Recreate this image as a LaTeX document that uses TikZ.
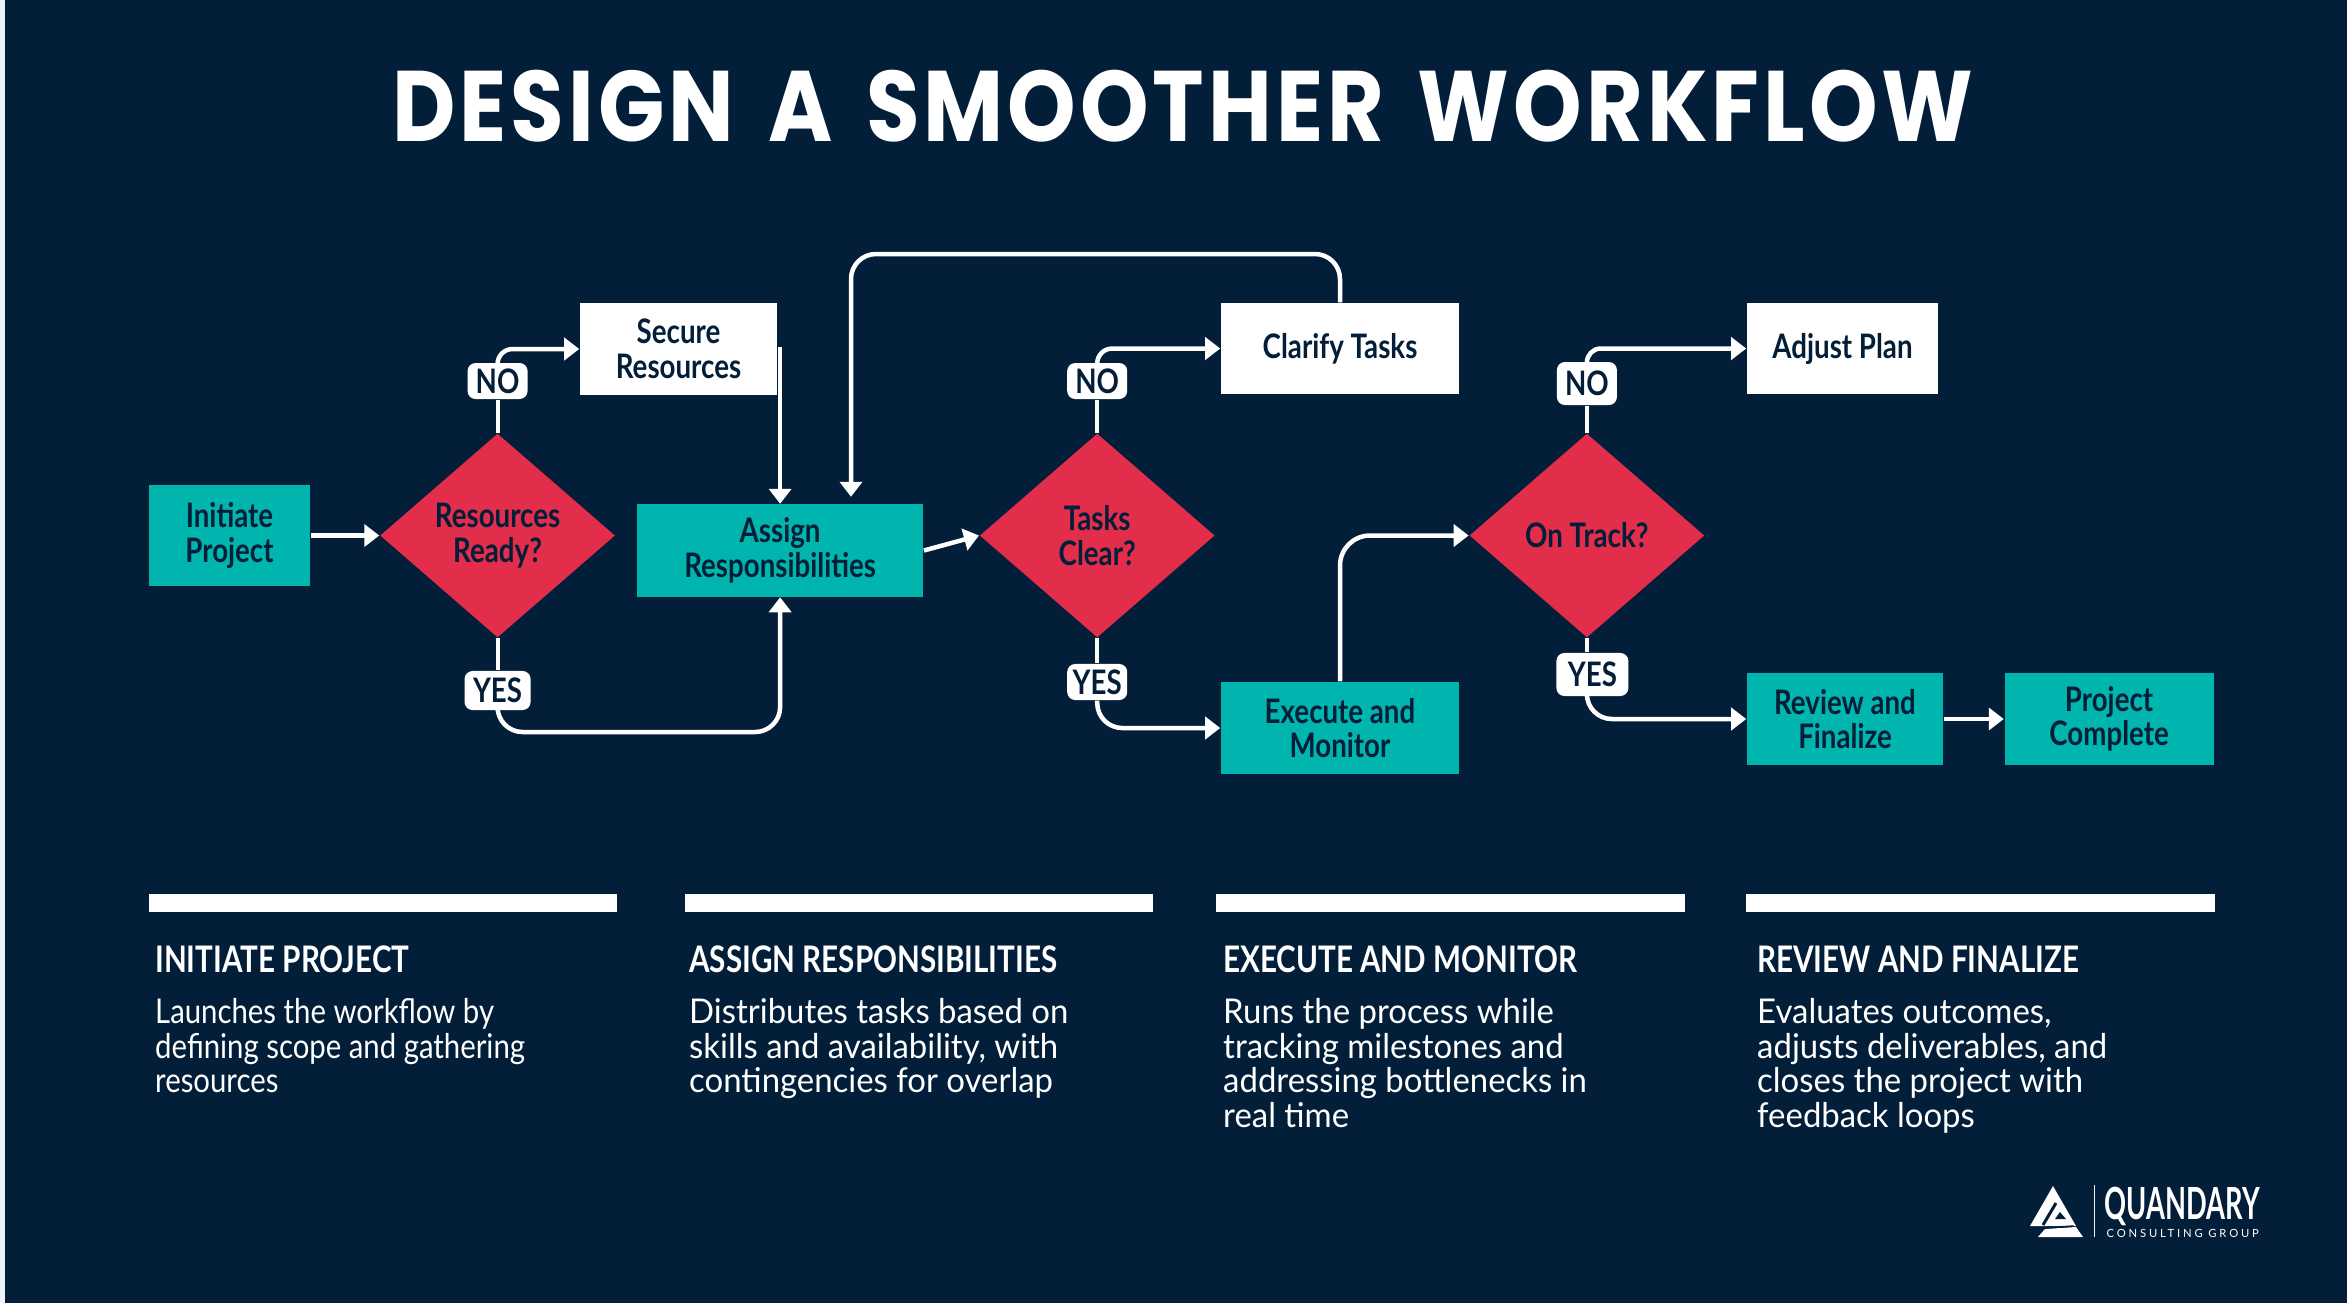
\documentclass[tikz,border=0pt]{standalone}
\usepackage{fontspec}
\usepackage{tikz}
\usetikzlibrary{arrows.meta,positioning,shapes.geometric}

\definecolor{navy}{HTML}{021E38}
\definecolor{teal}{HTML}{00B5AD}
\definecolor{crimson}{HTML}{E22D4B}
\definecolor{edgeblue}{HTML}{EEF3F8}

\newfontfamily\titlefont[LetterSpace=4,FakeStretch=.87,WordSpace=1.5]{Poppins}
\newfontfamily\boxfont[FakeStretch=.82]{Lato}
\newfontfamily\headfont[FakeStretch=.81]{Lato}
\newfontfamily\bodyfont[FakeStretch=.965]{Lato}
\newfontfamily\leadfont[FakeStretch=.86]{Lato}
\newfontfamily\logofont[FakeStretch=.615]{Lato}
\newfontfamily\logosmall[LetterSpace=25]{Lato}

\tikzset{
  boxtext/.style={font=\boxfont\bfseries\fontsize{9.6}{9.8}\selectfont,text=navy,align=center,inner sep=0pt},
  task/.style={boxtext,fill=teal,rectangle},
  fix/.style={boxtext,fill=white,rectangle},
  decision/.style={boxtext,fill=crimson,diamond,minimum width=2.35cm,minimum height=2.04cm},
  tag/.style={boxtext,fill=white,rectangle,rounded corners=.08cm},
  bar/.style={fill=white,minimum width=4.68cm,minimum height=.18cm,inner sep=0pt},
  headline/.style={font=\headfont\bfseries\fontsize{10.4}{11}\selectfont,text=white,anchor=base west,inner sep=0pt},
  bodytext/.style={font=\bodyfont\fontsize{9.7}{9.82}\selectfont,text=white,align=left,anchor=north west,inner sep=0pt},
  flow/.style={color=white,line width=.045cm,->},
  plain/.style={color=white,line width=.04cm}
}

\begin{document}
\begin{tikzpicture}[x=.01cm,y=-.01cm,>={Triangle[length=.15cm,width=.22cm]}]
  \useasboundingbox (0,0) rectangle (2347,1302);
  \fill[navy] (-5,-5) rectangle (2352,1307);
  \fill[edgeblue] (-5,-5) rectangle (4.5,1307);

  \node[font=\titlefont\bfseries\fontsize{28.5}{30}\selectfont,text=white,inner sep=0pt] (title) at (1183,106) {DESIGN A SMOOTHER WORKFLOW};

  % first row of the flow
  \node[task,minimum width=1.61cm,minimum height=1.01cm] (init) at (229.5,535.5) {Initiate\\Project};
  \node[decision,right=.685cm of init] (res) {Resources\\Ready?};
  \node[task,minimum width=2.86cm,minimum height=.92cm,right=.205cm of res,yshift=-.15cm] (assign) {Assign\\Responsibilities};
  \node[decision,right=.55cm of assign,yshift=.15cm] (tasks) {Tasks\\Clear?};
  \node[decision,right=2.53cm of tasks] (ontrack) {On Track?};

  \node[tag,minimum width=.6cm,minimum height=.36cm,above=.33cm of res] (no1) {NO};
  \node[tag,minimum width=.66cm,minimum height=.39cm,below=.32cm of res] (yes1) {YES};
  \node[tag,minimum width=.6cm,minimum height=.36cm,above=.33cm of tasks] (no2) {NO};
  \node[tag,minimum width=.6cm,minimum height=.36cm,below=.25cm of tasks] (yes2) {YES};
  \node[tag,minimum width=.6cm,minimum height=.43cm,above=.27cm of ontrack] (no3) {NO};
  \node[tag,minimum width=.72cm,minimum height=.43cm,below=.14cm of ontrack,xshift=.055cm] (yes3) {YES};

  \node[fix,minimum width=1.97cm,minimum height=.92cm] (secure) at (678.5,349) {Secure\\Resources};
  \node[fix,minimum width=2.38cm,minimum height=.91cm] (clarify) at (1340,348.5) {Clarify Tasks};
  \node[fix,minimum width=1.91cm,minimum height=.91cm] (adjust) at (1842.5,348.5) {Adjust Plan};
  \node[task,minimum width=2.38cm,minimum height=.92cm] (execute) at (1340,728) {Execute and\\Monitor};
  \node[task,minimum width=1.96cm,minimum height=.92cm] (review) at (1845,719) {Review and\\Finalize};
  \node[task,minimum width=2.09cm,minimum height=.92cm,right=.6cm of review] (done) {Project\\Complete};

  \coordinate (low) at (assign.south |- 0,732);
  \coordinate (over) at (851,254);

  \path[flow]
    (init) edge (res)
    (assign.east) edge (tasks.west)
    (review) edge (done)
  ;
  \path[plain]
    (res) edge (no1)
    (res) edge (yes1)
    (tasks) edge (no2)
    (tasks) edge (yes2)
    (ontrack) edge (no3)
    (ontrack.south) edge (ontrack.south |- yes3.north)
  ;
  \draw[flow] (secure.east) -| (assign.north);
  \draw[flow,rounded corners=.15cm] (no1.north) |- (secure.west);
  \draw[flow,rounded corners=.15cm] (no2.north) |- (clarify.west);
  \draw[flow,rounded corners=.14cm] (no3.north) |- (adjust.west);
  \draw[flow,rounded corners=.25cm] (yes1.south) |- (low) -- (assign.south);
  \draw[flow,rounded corners=.25cm] (yes2.south) |- (execute.west);
  \draw[flow,rounded corners=.25cm] (ontrack.south |- yes3.south) |- (review.west);
  \draw[flow,rounded corners=.3cm] (execute.north) |- (ontrack.west);
  \draw[flow,rounded corners=.25cm,shorten >=.07cm] (clarify.north) |- (over) -- (over |- assign.north);

  % the four columns under the flow
  \node[bar] (bar1) at (383,903) {};
  \node[bar] (bar2) at (919,903) {};
  \node[bar] (bar3) at (1450.5,903) {};
  \node[bar] (bar4) at (1980.5,903) {};

  \node[headline] (head1) at (154.5,972) {INITIATE PROJECT};
  \node[headline] (head2) at (688.5,972) {ASSIGN RESPONSIBILITIES};
  \node[headline] (head3) at (1222.5,972) {EXECUTE AND MONITOR};
  \node[headline] (head4) at (1756.5,972) {REVIEW AND FINALIZE};

  \node[bodytext,font=\leadfont\fontsize{9.7}{9.82}\selectfont] (body1) at (154.5,998) {Launches the workflow by\\defining scope and gathering\\resources};
  \node[bodytext] (body2) at (688.5,998) {Distributes tasks based on\\skills and availability, with\\contingencies for overlap};
  \node[bodytext] (body3) at (1222.5,998) {Runs the process while\\tracking milestones and\\addressing bottlenecks in\\real time};
  \node[bodytext] (body4) at (1756.5,998) {Evaluates outcomes,\\adjusts deliverables, and\\closes the project with\\feedback loops};

  % logo
  \fill[white] (2053,1186) -- (2076,1226) -- (2030,1226) -- cycle;
  \fill[white] (2038,1237) -- (2083,1237) -- (2076,1227) -- (2045,1229) -- cycle;
  \draw[navy,line width=.03cm] (2056,1203) -- (2043,1225);
  \fill[navy] (2060,1212) -- (2066,1219) -- (2055,1219) -- cycle;
  \draw[navy,line width=.015cm] (2041,1228) -- (2074,1226);
  \fill[edgeblue] (2093.5,1185) rectangle (2094.5,1237);
  \node[font=\logofont\bfseries\fontsize{12.6}{13}\selectfont,text=white,anchor=base west,inner sep=0pt] (logoname) at (2104,1219) {QUANDARY};
  \node[font=\logosmall\fontsize{3.2}{4}\selectfont,text=white,anchor=base west,inner sep=0pt] (logosub) at (2106,1237) {CONSULTING GROUP};
\end{tikzpicture}
\end{document}
